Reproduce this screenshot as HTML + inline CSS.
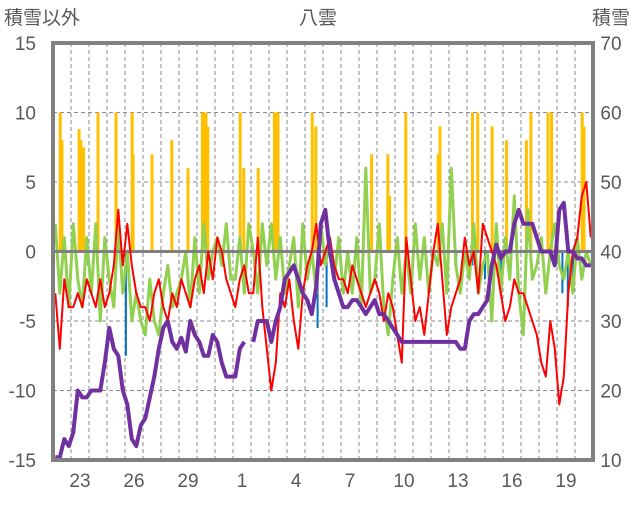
<!DOCTYPE html>
<html><head><meta charset="utf-8">
<style>
body{margin:0;background:#fff;}
svg text{font-family:"Liberation Sans","Noto Sans CJK JP",sans-serif;fill:#595959;}
</style></head>
<body>
<svg id="c" width="636" height="501" viewBox="0 0 636 501" xmlns="http://www.w3.org/2000/svg">
<text x="4" y="24" font-size="19">積雪以外</text>
<text x="318" y="24" font-size="19" text-anchor="middle">八雲</text>
<text x="630" y="24" font-size="19" text-anchor="end">積雪</text>
<g id="grid"></g><g id="bars"></g><g id="lines"></g><g id="axes"></g>
</svg>
<script>
const leftTicks=[15,10,5,0,-5,-10,-15];
const rightTicks=[70,60,50,40,30,20,10];
const dayLabels=["23","26","29","1","4","7","10","13","16","19"];
const orangeDays=[0.4,0.5,1.45,1.55,1.7,2.5,3.5,4.4,4.45,5.5,6.6,7.5,8.3,8.4,8.5,8.6,10.4,10.6,11.4,12.3,12.4,12.5,14.4,14.6,17.7,18.6,18.7,19.6,21.4,21.5,23.3,23.6,24.4,25.2,26.3,26.55,27.5,27.7,29.4,29.5];
const orangeVals=[10,8,8.8,8,7.5,10,10,10,7,7,8,6,10,10,10,9,10,6,6,10,10,10,10,9,7,7,4,10,7,9,10,10,9,8,8,10,10,10,10,9];
const blueDays=[1.95,4.05,14.7,15.2,22.4,23.3,24.0,24.9,25.8,28.3,28.6,28.9];
const blueVals=[-1,-7.5,-5.5,-4,-1,-1,-2,-2,-2,-3,-4,-2];
const redVals=[-3,-7,-2,-4,-4,-3,-4,-2,-3,-4,-2,-4,-3,-1,3,-1,2,-1,-3,-4,-4,-5,-3,-2,-4,-5,-3,-4,-2,-3,-4,-2,-1,-3,0,-2,1,0,-2,-3,-4,-2,-1,-3,-3,1,-4,-7,-10,-8,-3,-4,-2,-5,-7,-3,-1,0,2,-1,0,1,-1,-2,-2,-3,-1,-2,-3,-4,-3,-2,-3,-5,-3,-4,-6,-8,1,-2,-5,-4,-6,-3,0,2,-2,-6,-4,-3,-2,1,-1,0,-3,2,1,0,-1,-3,-5,-4,-2,-3,-3,-4,-5,-6,-8,-9,-5,-7,-11,-9,-3,0,1,4,5,1];
const greenVals=[2,-3,1,-4,2,-2,-4,1,-3,2,-5,1,-2,-4,2,-3,0,-5,-3,-5,-6,-2,-5,-6,-3,-1,-4,-3,-2,0,-4,1,-3,2,-2,0,1,-1,2,-2,-2,1,-3,2,0,-3,2,-1,2,-2,1,-3,-1,1,-4,2,-2,0,-3,2,-1,1,-2,1,-3,0,-3,1,-4,6,-3,-2,2,-4,-6,-2,1,-3,0,-3,2,-2,1,-3,0,-1,2,-3,6,-1,-3,0,-2,2,-3,-1,0,-5,2,-3,1,-2,4,-3,-6,3,-2,-1,1,-3,0,2,-1,-2,0,-3,1,-2,0,-1];
const snowVals=[10.4,10.4,13,12,14,20,19,19,20,20,20,24,29,26,25,20,18,13,12,15,16,19,22,26,29,30,27,26,27.6,25.6,30,28,27,25,25,28,27,24,22,22,22,26,27,null,27,30,30,30,27,30,32,36,37,38,36,34,33,31,35,44,46,40,36,34,32,32,33,33,32,31,32,33,31,31,30,29,28,27,27,27,27,27,27,27,27,27,27,27,27,27,26,26,30,31,31,32,33,38,41,39,40,40,44,46,44,44,44,42,40,40,40,38,46,47,40,40,39,39,38,38];
const svg=document.getElementById('c');
const NS='http://www.w3.org/2000/svg';
const L=53,R=593,T=43,B=460,DAYW=18;
const yL=v=>T+(15-v)*(B-T)/30;
const yR=v=>T+(70-v)*(B-T)/60;
const xD=d=>L+d*DAYW;
const xI=i=>L+i*DAYW/4;
function mk(tag,attrs,parent){const e=document.createElementNS(NS,tag);for(const k in attrs)e.setAttribute(k,attrs[k]);document.getElementById(parent).appendChild(e);return e;}
for(let d=1;d<30;d++){const g=mk('line',{x1:xD(d),x2:xD(d),y1:T,y2:B,stroke:'#888','stroke-width':1,'stroke-dasharray':'4,3'},'grid');

}
leftTicks.forEach(v=>{if(v!==15&&v!==-15&&v!==0){const g=mk('line',{x1:L,x2:R,y1:yL(v),y2:yL(v),stroke:'#888','stroke-width':1,'stroke-dasharray':'4,3'},'grid');

}});
orangeDays.forEach((d,i)=>{const v=orangeVals[i];const r=mk('rect',{x:xD(d)-1.5,y:yL(v),width:3,height:yL(0)-yL(v),fill:'#ffc000'},'bars');

});
blueDays.forEach((d,i)=>{const v=blueVals[i];const r=mk('rect',{x:xD(d)-1,y:yL(0),width:2,height:yL(v)-yL(0),fill:'#0070c0'},'bars');

});
function path(vals,yf){let s='',pen=false;vals.forEach((v,i)=>{if(v===null){pen=false;return;}s+=(pen?'L':'M')+xI(i+0.5).toFixed(1)+','+yf(v).toFixed(1);pen=true;});return s;}
const g1=mk('path',{d:path(greenVals,yL),fill:'none',stroke:'#92d050','stroke-width':3,'stroke-linejoin':'round'},'lines');


const z=mk('line',{x1:L,x2:R,y1:yL(0),y2:yL(0),stroke:'#808080','stroke-width':3},'lines');


const r1=mk('path',{d:path(redVals,yL),fill:'none',stroke:'#ff0000','stroke-width':2,'stroke-linejoin':'round'},'lines');


const p1=mk('path',{d:path(snowVals,yR),fill:'none',stroke:'#7030a0','stroke-width':4,'stroke-linejoin':'round'},'lines');


const f=mk('path',{d:`M${L},${B}V${T}H${R}V${B}Z`,fill:'none',stroke:'#808080','stroke-width':4},'axes');


leftTicks.forEach(v=>{const t=mk('text',{x:36,y:yL(v)+7,'font-size':19,'text-anchor':'end'},'axes');t.textContent=v;

});
rightTicks.forEach(v=>{const t=mk('text',{x:611,y:yR(v)+7,'font-size':19,'text-anchor':'middle'},'axes');t.textContent=v;

});
dayLabels.forEach((s,i)=>{const t=mk('text',{x:xD(1.5+3*i),y:487,'font-size':19,'text-anchor':'middle'},'axes');t.textContent=s;

});
</script>
</body></html>
